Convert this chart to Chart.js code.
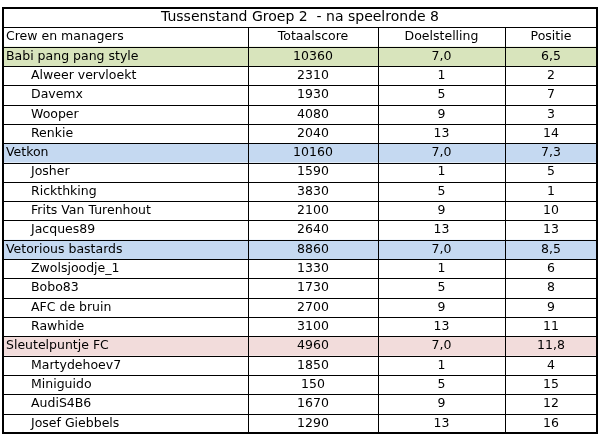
<!DOCTYPE html>
<html><head><meta charset="utf-8">
<script src="https://cdn.jsdelivr.net/npm/chart.js@4"></script>
<style>body{margin:0;background:#fff}</style>
</head><body>
<canvas id="tbl" width="601" height="437"></canvas>
<script>
var title = "Tussenstand Groep 2  - na speelronde 8";
var headers = ["Crew en managers", "Totaalscore", "Doelstelling", "Positie"];
var names = ["Babi pang pang style","Alweer vervloekt","Davemx","Wooper","Renkie",
  "Vetkon","Josher","Rickthking","Frits Van Turenhout","Jacques89",
  "Vetorious bastards","Zwolsjoodje_1","Bobo83","AFC de bruin","Rawhide",
  "Sleutelpuntje FC","Martydehoev7","Miniguido","AudiS4B6","Josef Giebbels"];
var totals = [10360,2310,1930,4080,2040, 10160,1590,3830,2100,2640, 8860,1330,1730,2700,3100, 4960,1850,150,1670,1290];
var doel = ["7,0","1","5","9","13", "7,0","1","5","9","13", "7,0","1","5","9","13", "7,0","1","5","9","13"];
var positie = ["6,5","2","7","3","14", "7,3","5","1","10","13", "8,5","6","8","9","11", "11,8","4","15","12","16"];
var isCrew = [1,0,0,0,0, 1,0,0,0,0, 1,0,0,0,0, 1,0,0,0,0];
var crewColors = ["#d8e4bc", "#c5d9f1", "#c5d9f1", "#f2dcdb"];

var colEdges = [3, 248, 378, 505, 597];
var rowLabels = ["title", "header"].concat(names);

var tablePlugin = {
  id: 'tablePlugin',
  afterDraw: function(chart) {
    var c = chart.ctx, y = chart.scales.y, x = chart.scales.x;
    var n = rowLabels.length;
    var h = (y.bottom - y.top) / n;
    var xs = colEdges.map(function(v){ return x.getPixelForValue(v); });
    c.save();
    c.textBaseline = 'middle';
    var crewIdx = 0;
    for (var r = 0; r < n; r++) {
      var cy = y.getPixelForValue(r), top = cy - h / 2;
      if (r === 0) {
        c.font = '14px "DejaVu Sans"'; c.fillStyle = '#000'; c.textAlign = 'center';
        c.fillText(title, (xs[0] + xs[4]) / 2, cy);
        continue;
      }
      var cells, crew = false;
      if (r === 1) cells = headers;
      else {
        var i = r - 2;
        crew = isCrew[i];
        cells = [names[i], String(totals[i]), doel[i], positie[i]];
        if (crew) {
          c.fillStyle = crewColors[crewIdx++];
          c.fillRect(xs[0], top, xs[4] - xs[0], h);
        }
      }
      c.font = '12.5px "DejaVu Sans"'; c.fillStyle = '#000';
      for (var k = 0; k < 4; k++) {
        if (k === 0) {
          c.textAlign = 'left';
          c.fillText(cells[k], xs[0] + ((r === 1 || crew) ? 3 : 28), cy);
        } else {
          c.textAlign = 'center';
          c.fillText(cells[k], (xs[k] + xs[k + 1]) / 2, cy);
        }
      }
    }
    // grid
    c.strokeStyle = '#000'; c.lineWidth = 1;
    c.beginPath();
    for (var r2 = 1; r2 < n; r2++) {
      var yy = Math.round(y.top + r2 * h) + 0.5;
      c.moveTo(xs[0], yy); c.lineTo(xs[4], yy);
    }
    for (var k2 = 1; k2 < 4; k2++) {
      var xp = Math.round(xs[k2]) + 0.5;
      c.moveTo(xp, y.top + h); c.lineTo(xp, y.bottom);
    }
    c.stroke();
    c.lineWidth = 2;
    c.strokeRect(Math.round(xs[0]), Math.round(y.top), Math.round(xs[4] - xs[0]), Math.round(y.bottom - y.top));
    c.restore();
  }
};

new Chart(document.getElementById('tbl'), {
  type: 'bar',
  data: { labels: rowLabels, datasets: [{ data: [] }] },
  options: {
    responsive: false, animation: false, indexAxis: 'y',
    layout: { padding: { top: 8, bottom: 4, left: 0, right: 0 } },
    plugins: { legend: { display: false }, tooltip: { enabled: false } },
    scales: {
      x: { type: 'linear', min: 0, max: 601, display: false },
      y: { type: 'category', display: false, offset: true }
    }
  },
  plugins: [tablePlugin]
});
</script>
</body></html>
